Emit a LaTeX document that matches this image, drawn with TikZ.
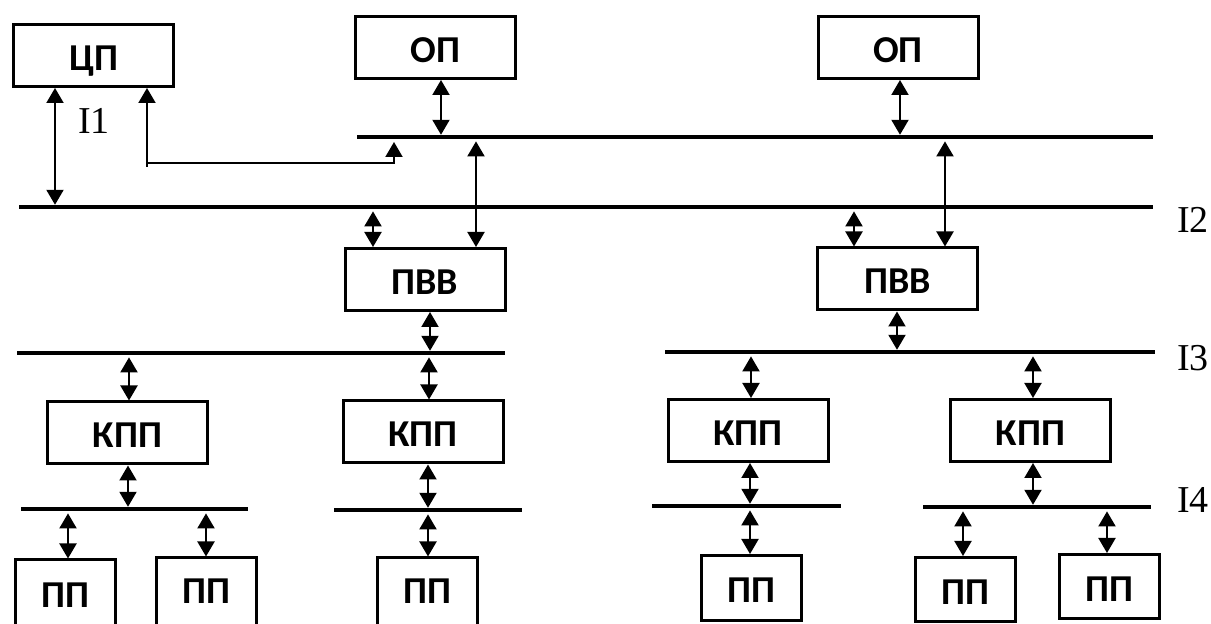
\documentclass[tikz,border=0pt]{standalone}
\usepackage{fontspec}
\setmainfont{Liberation Serif}
\newfontfamily\boxfont{Carlito}
\usetikzlibrary{arrows.meta}
\begin{document}
\begin{tikzpicture}[x=0.5pt,y=-0.5pt,
  box/.style={draw, line width=1.5pt, inner sep=0pt,
    font=\boxfont\bfseries\fontsize{19}{22}\selectfont,
    text height=15pt, text depth=0pt,
    minimum width=80pt, minimum height=31pt},
  ppbox/.style={box, minimum width=50pt, minimum height=32pt},
  bus/.style={line width=2.2pt},
  tipA/.tip={Triangle[width=8.5pt,length=7.5pt]},
  arr/.style={line width=1pt, -tipA},
  dbl/.style={line width=1pt, tipA-tipA},
  toBus/.style={shorten >=1.1pt},
  fromBus/.style={shorten <=2.2pt},
  lab/.style={font=\fontsize{19}{22}\selectfont, inner sep=0pt}]
\useasboundingbox (0,0) rectangle (1211,624);
\clip (0,0) rectangle (1211,624);

% boxes
\node[box] (cp)   at (93.5,55.5)   {ЦП};
\node[box] (op1)  at (435.5,47.5)  {ОП};
\node[box] (op2)  at (898,47.5)    {ОП};
\node[box] (pvv1) at (425,279.5)   {ПВВ};
\node[box] (pvv2) at (897.5,279)   {ПВВ};
\node[box] (kpp1) at (127.5,433)   {КПП};
\node[box] (kpp2) at (423,432)     {КПП};
\node[box] (kpp3) at (748,430.5)   {КПП};
\node[box] (kpp4) at (1030.5,430.5){КПП};
\node[ppbox, minimum height=34pt, text height=14pt] (pp1) at (65.5,594) {ПП\hspace{6pt}};
\node[ppbox, minimum height=35pt, text height=11pt] (pp2) at (206.5,593) {ПП\hspace{6pt}};
\node[ppbox, minimum height=35pt, text height=11pt] (pp3) at (427.5,593) {ПП\hspace{6pt}};
\node[ppbox, minimum height=32.5pt] (pp4) at (751,588)    {ПП\hspace{6pt}};
\node[ppbox] (pp5) at (965,589.5)  {ПП\hspace{6pt}};
\node[ppbox] (pp6) at (1109.5,586.5) {ПП\hspace{6pt}};

% buses
\coordinate (b1w) at (357,137);  \coordinate (b1e) at (1153,137);
\coordinate (b2w) at (19,207);   \coordinate (b2e) at (1153,207);
\coordinate (b3aw) at (17,353);  \coordinate (b3ae) at (505,353);
\coordinate (b3bw) at (665,352); \coordinate (b3be) at (1155,352);
\coordinate (b4aw) at (21,509);  \coordinate (b4ae) at (248,509);
\coordinate (b4bw) at (334,510); \coordinate (b4be) at (522,510);
\coordinate (b4cw) at (652,506); \coordinate (b4ce) at (841,506);
\coordinate (b4dw) at (923,507); \coordinate (b4de) at (1151,507);
\draw[bus] (b1w) -- (b1e);
\draw[bus] (b2w) -- (b2e);
\draw[bus] (b3aw) -- (b3ae);
\draw[bus] (b3bw) -- (b3be);
\draw[bus] (b4aw) -- (b4ae);
\draw[bus] (b4bw) -- (b4be);
\draw[bus] (b4cw) -- (b4ce);
\draw[bus] (b4dw) -- (b4de);

% CPU links
\draw[dbl, toBus] (55,0|-cp.south) -- (55,0|-b2w);
\coordinate (c1) at (147,167);
\coordinate (c2) at (147,163);
\coordinate (c3) at (394,163);
\coordinate (c4) at (394,142);
\draw[arr] (c1) -- (147,0|-cp.south);
\draw[arr] (c2) -- (c3) -- (c4);

% memory links
\draw[dbl, toBus] (441,0|-op1.south) -- (441,0|-b1w);
\draw[dbl, toBus] (900,0|-op2.south) -- (900,0|-b1w);
\draw[dbl, fromBus] (476,0|-b1w) -- (476,0|-pvv1.north);
\draw[dbl, fromBus] (945,0|-b1w) -- (945,0|-pvv2.north);
\draw[dbl, fromBus] (373,0|-b2w) -- (373,0|-pvv1.north);
\draw[dbl, fromBus] (854,0|-b2w) -- (854,0|-pvv2.north);

% I/O processors to channel buses
\draw[dbl, toBus] (430,0|-pvv1.south) -- (430,0|-b3aw);
\draw[dbl, toBus] (897,0|-pvv2.south) -- (897,0|-b3bw);
\draw[dbl, fromBus] (129,0|-b3aw) -- (129,0|-kpp1.north);
\draw[dbl, fromBus] (429,0|-b3aw) -- (429,0|-kpp2.north);
\draw[dbl, fromBus] (751,0|-b3bw) -- (751,0|-kpp3.north);
\draw[dbl, fromBus] (1033,0|-b3bw) -- (1033,0|-kpp4.north);

% controllers to device buses
\draw[dbl, toBus] (128,0|-kpp1.south) -- (128,0|-b4aw);
\draw[dbl, toBus] (428,0|-kpp2.south) -- (428,0|-b4bw);
\draw[dbl, toBus] (750,0|-kpp3.south) -- (750,0|-b4cw);
\draw[dbl, toBus] (1033,0|-kpp4.south) -- (1033,0|-b4dw);

% device buses to devices
\draw[dbl, fromBus] (68,0|-b4aw) -- (68,0|-pp1.north);
\draw[dbl, fromBus] (206,0|-b4aw) -- (206,0|-pp2.north);
\draw[dbl, fromBus] (428,0|-b4bw) -- (428,0|-pp3.north);
\draw[dbl, fromBus] (750,0|-b4cw) -- (750,0|-pp4.north);
\draw[dbl, fromBus] (963,0|-b4dw) -- (963,0|-pp5.north);
\draw[dbl, fromBus] (1107,0|-b4dw) -- (1107,0|-pp6.north);

% labels
\node[lab] (i1) at (94,121) {I1};
\node[lab] (i2) at (1193,220) {I2};
\node[lab] (i3) at (1193,358) {I3};
\node[lab] (i4) at (1193,500) {I4};
\end{tikzpicture}
\end{document}
